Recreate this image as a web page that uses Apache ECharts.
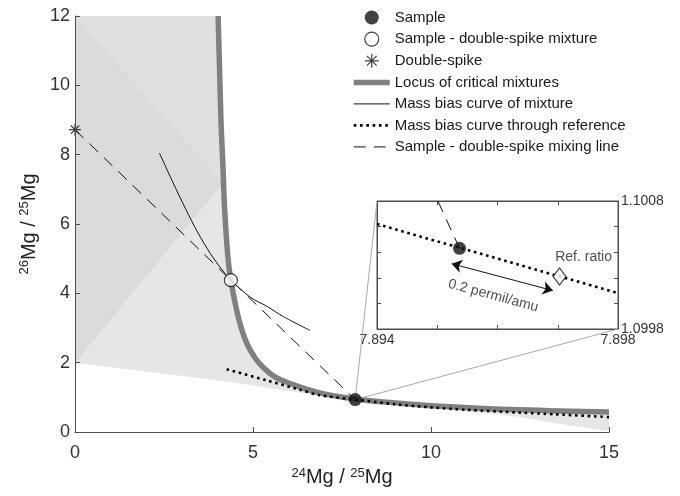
<!DOCTYPE html>
<html>
<head>
<meta charset="utf-8">
<script src="https://cdn.jsdelivr.net/npm/echarts@6.0.0/dist/echarts.min.js"></script>
<style>
  html, body { margin: 0; padding: 0; background: #fff; }
  #chart { width: 680px; height: 496px; }
</style>
</head>
<body>
<div id="chart"></div>
<script>
// ---- values ----
var sample = [7.87, 0.935];
var mixture = [4.38, 4.38];
var doubleSpike = [0, 8.72];

// locus of critical mixtures (thick grey)
var locusX = [4.02, 4.06, 4.10, 4.15, 4.20, 4.26, 4.32, 4.38, 4.47, 4.62, 4.82, 5.05, 5.29, 5.60, 6.04, 6.79, 7.87, 9.0, 10.0, 12.5, 15.0];
var locusY = [12.0, 10.5, 9.0, 7.8, 6.5, 5.5, 4.8, 4.38, 3.87, 3.18, 2.57, 2.15, 1.86, 1.60, 1.40, 1.15, 0.95, 0.84, 0.76, 0.64, 0.58];

// mass bias curve of mixture (thin black)
var mixCurveX = [2.37, 2.75, 3.10, 3.45, 3.80, 4.10, 4.38, 4.92, 5.40, 5.85, 6.60];
var mixCurveY = [8.05, 7.20, 6.45, 5.75, 5.15, 4.72, 4.38, 3.89, 3.62, 3.33, 2.93];

// mass bias curve through reference (dotted)
var refCurveX = [4.26, 5.38, 6.32, 6.88, 7.87, 9.0, 10.0, 11.0, 12.5, 13.5, 15.0];
var refCurveY = [1.81, 1.49, 1.22, 1.06, 0.935, 0.80, 0.71, 0.64, 0.56, 0.51, 0.43];

// sample - double-spike mixing line (dashed)
var mixLineX = [0, 4.38, 7.87];
var mixLineY = [8.72, 4.38, 0.935];

// light grey fan: lower edge, from right to left
var fanLowX = [15.0, 13.5, 12.5, 10.0, 8.0, 4.26, 0];
var fanLowY = [0.02, 0.25, 0.43, 0.70, 0.87, 1.46, 2.0];
// darker wedge and upper band inside the fan
var wedgeX = [0, 0, 4.17];
var wedgeY = [12, 2, 7.2];
var upperX = [0, 4.02, 4.06, 4.10, 4.15, 4.17];
var upperY = [12, 12.0, 10.5, 9.0, 7.8, 7.2];

// inset (zoom on the sample)
var insetXLabels = ['7.894', '7.898'];
var insetYLabels = ['1.0998', '1.1008'];
var insetRefLineX = [7.894, 7.898];
var insetRefLineY = [1.10062, 1.10008];
var insetMixLineX = [7.89501, 7.89537];
var insetMixLineY = [1.1008, 1.10043];
var insetSample = [7.89537, 1.10043];
var insetRef = [7.89703, 1.10021];
var arrowX = [7.89524, 7.89692];
var arrowY = [1.10031, 1.10010];
var arrowText = [7.89593, 1.10006];

function zip(xs, ys) { return xs.map(function (x, i) { return [x, ys[i]]; }); }

var FONT = "'Liberation Sans', Arial, Helvetica, sans-serif";
var AX = '#4d4d4d';
var MAIN = { left: 75, top: 16, width: 534, height: 416 };
var INSET = { left: 377, top: 201, width: 241, height: 128 };

var fanPoly = [[0, 12]].concat(zip(locusX, locusY), zip(fanLowX, fanLowY));
var wedgePoly = zip(wedgeX, wedgeY);
var upperPoly = zip(upperX, upperY);

var asterisk = 'path://M0,5L10,5M5,0L5,10M1.5,1.5L8.5,8.5M1.5,8.5L8.5,1.5';
var clear = 'rgba(0,0,0,0)';

function near(v, s) { return Math.abs(v - parseFloat(s)) < 1e-7; }

var myChart = echarts.init(document.getElementById('chart'));

var option = {
    animation: false,
    backgroundColor: '#fff',
    textStyle: { fontFamily: FONT },
    grid: [
        { left: MAIN.left, top: MAIN.top, width: MAIN.width, height: MAIN.height },
        { left: INSET.left, top: INSET.top, width: INSET.width, height: INSET.height,
          show: true, backgroundColor: '#fff', borderColor: AX, borderWidth: 1 }
    ],
    legend: {
        orient: 'vertical',
        left: 346, top: 5,
        itemWidth: 36, itemHeight: 14, itemGap: 6.5,
        selectedMode: false,
        textStyle: { fontSize: 15, color: '#1a1a1a', fontFamily: FONT },
        itemStyle: { borderWidth: 'inherit', borderColor: 'inherit' },
        lineStyle: { width: 'inherit', type: 'inherit', color: 'inherit' },
        data: ['Sample', 'Sample - double-spike mixture', 'Double-spike',
               'Locus of critical mixtures', 'Mass bias curve of mixture',
               'Mass bias curve through reference', 'Sample - double-spike mixing line']
    },
    xAxis: [
        {
            gridIndex: 0, type: 'value', min: 0, max: 15, interval: 5, z: 10,
            axisLine: { lineStyle: { color: AX, width: 1 } },
            axisTick: { inside: true, length: 5, lineStyle: { color: AX } },
            axisLabel: { fontSize: 18, color: '#333', margin: 12 },
            splitLine: { show: false },
            name: '{s|24}{m|Mg / }{s|25}{m|Mg}',
            nameLocation: 'middle', nameGap: 34,
            nameTextStyle: {
                color: '#222',
                rich: {
                    s: { fontSize: 13, lineHeight: 13, verticalAlign: 'top', color: '#222' },
                    m: { fontSize: 20, lineHeight: 22, color: '#222' }
                }
            }
        },
        {
            gridIndex: 1, type: 'value', min: 7.894, max: 7.898, interval: 0.001, position: 'bottom',
            axisLine: { lineStyle: { color: AX } },
            axisTick: { inside: true, length: 4, lineStyle: { color: AX } },
            axisLabel: { fontSize: 14, color: '#333', margin: 4,
                formatter: function (v) {
                    for (var i = 0; i < insetXLabels.length; i++) if (near(v, insetXLabels[i])) return insetXLabels[i];
                    return '';
                } },
            splitLine: { show: false }
        },
        {
            gridIndex: 1, type: 'value', min: 7.894, max: 7.898, interval: 0.001, position: 'top',
            axisLine: { lineStyle: { color: AX } },
            axisTick: { inside: true, length: 4, lineStyle: { color: AX } },
            axisLabel: { show: false },
            splitLine: { show: false }
        }
    ],
    yAxis: [
        {
            gridIndex: 0, type: 'value', min: 0, max: 12, interval: 2, z: 10,
            axisLine: { show: true, lineStyle: { color: AX, width: 1 } },
            axisTick: { show: true, inside: true, length: 5, lineStyle: { color: AX } },
            axisLabel: { fontSize: 18, color: '#333', margin: 5 },
            splitLine: { show: false },
            name: '{s|26}{m|Mg / }{s|25}{m|Mg}',
            nameLocation: 'middle', nameGap: 34, nameRotate: 90,
            nameTextStyle: {
                color: '#222',
                rich: {
                    s: { fontSize: 13, lineHeight: 13, verticalAlign: 'top', color: '#222' },
                    m: { fontSize: 20, lineHeight: 22, color: '#222' }
                }
            }
        },
        {
            gridIndex: 1, type: 'value', min: 1.0998, max: 1.1008, interval: 0.0002, position: 'right',
            axisLine: { show: true, lineStyle: { color: AX } },
            axisTick: { show: true, inside: true, length: 4, lineStyle: { color: AX } },
            axisLabel: { fontSize: 14, color: '#333', margin: 3,
                formatter: function (v) {
                    for (var i = 0; i < insetYLabels.length; i++) if (near(v, insetYLabels[i])) return insetYLabels[i];
                    return '';
                } },
            splitLine: { show: false }
        },
        {
            gridIndex: 1, type: 'value', min: 1.0998, max: 1.1008, interval: 0.0002, position: 'left',
            axisLine: { show: true, lineStyle: { color: AX } },
            axisTick: { show: true, inside: true, length: 4, lineStyle: { color: AX } },
            axisLabel: { show: false },
            splitLine: { show: false }
        }
    ],
    series: [
        // grey fan of mixtures
        {
            type: 'custom', name: 'fan', xAxisIndex: 0, yAxisIndex: 0, z: 1, silent: true,
            data: [[0, 0]],
            renderItem: function (params, api) {
                function px(poly) { return poly.map(function (p) { return api.coord(p); }); }
                return {
                    type: 'group',
                    children: [
                        { type: 'polygon', shape: { points: px(fanPoly), smooth: 0 }, style: { fill: '#e6e6e6' } },
                        { type: 'polygon', shape: { points: px(upperPoly) }, style: { fill: '#e0e0e0' } },
                        { type: 'polygon', shape: { points: px(wedgePoly) }, style: { fill: '#dbdbdb' } }
                    ]
                };
            }
        },
        // thin lines from the sample to the inset corners
        {
            type: 'custom', name: 'zoomlines', xAxisIndex: 0, yAxisIndex: 0, z: 2, silent: true,
            data: [sample],
            renderItem: function (params, api) {
                var p = api.coord(sample);
                var st = { stroke: '#a8a8a8', lineWidth: 1 };
                return {
                    type: 'group',
                    children: [
                        { type: 'line', shape: { x1: p[0], y1: p[1], x2: INSET.left, y2: INSET.top }, style: st },
                        { type: 'line', shape: { x1: p[0], y1: p[1], x2: INSET.left + INSET.width, y2: INSET.top + INSET.height }, style: st }
                    ]
                };
            }
        },
        {
            type: 'line', name: 'Locus of critical mixtures', xAxisIndex: 0, yAxisIndex: 0, z: 3,
            data: zip(locusX, locusY), showSymbol: false, symbol: 'none',
            smooth: 0.4,
            itemStyle: { color: clear, borderWidth: 0 },
            lineStyle: { color: '#808080', width: 5.5 }
        },
        {
            type: 'line', name: 'Mass bias curve of mixture', xAxisIndex: 0, yAxisIndex: 0, z: 4,
            data: zip(mixCurveX, mixCurveY), showSymbol: false, symbol: 'none', smooth: 0.3,
            itemStyle: { color: clear, borderWidth: 0 },
            lineStyle: { color: '#111', width: 1 }
        },
        {
            type: 'line', name: 'Mass bias curve through reference', xAxisIndex: 0, yAxisIndex: 0, z: 4,
            data: zip(refCurveX, refCurveY), showSymbol: false, symbol: 'none', smooth: 0.3,
            itemStyle: { color: clear, borderWidth: 0 },
            lineStyle: { color: '#000', width: 2.6, type: [2.6, 3.7] }
        },
        {
            type: 'line', name: 'Sample - double-spike mixing line', xAxisIndex: 0, yAxisIndex: 0, z: 4,
            data: zip(mixLineX, mixLineY), showSymbol: false, symbol: 'none',
            itemStyle: { color: clear, borderWidth: 0 },
            lineStyle: { color: '#111', width: 1, type: [12, 8] }
        },
        {
            type: 'scatter', name: 'Sample', xAxisIndex: 0, yAxisIndex: 0, z: 5,
            data: [sample], symbol: 'circle', symbolSize: 13,
            itemStyle: { color: '#111', borderWidth: 0 }
        },
        {
            type: 'scatter', name: 'Sample - double-spike mixture', xAxisIndex: 0, yAxisIndex: 0, z: 5,
            data: [mixture], symbol: 'circle', symbolSize: 13,
            itemStyle: { color: '#fff', borderColor: '#111', borderWidth: 1.2 }
        },
        {
            type: 'scatter', name: 'Double-spike', xAxisIndex: 0, yAxisIndex: 0, z: 5,
            data: [doubleSpike], symbol: asterisk, symbolSize: 12, clip: false,
            itemStyle: { color: clear, borderColor: '#111', borderWidth: 1.2 }
        },

        // ---- inset ----
        {
            type: 'line', name: 'inset-ref', xAxisIndex: 1, yAxisIndex: 1, z: 4,
            data: zip(insetRefLineX, insetRefLineY), showSymbol: false, symbol: 'none',
            lineStyle: { color: '#000', width: 2.6, type: [2.6, 3.7] }
        },
        {
            type: 'line', name: 'inset-mix', xAxisIndex: 1, yAxisIndex: 1, z: 4,
            data: zip(insetMixLineX, insetMixLineY), showSymbol: false, symbol: 'none',
            lineStyle: { color: '#111', width: 1, type: [12, 8] }
        },
        {
            type: 'lines', name: 'inset-arrow', coordinateSystem: 'cartesian2d', xAxisIndex: 1, yAxisIndex: 1, z: 4,
            data: [{ coords: zip(arrowX, arrowY) }],
            symbol: ['arrow', 'arrow'], symbolSize: 10,
            lineStyle: { color: '#111', width: 1, opacity: 1 }
        },
        {
            type: 'scatter', name: 'inset-sample', xAxisIndex: 1, yAxisIndex: 1, z: 5,
            data: [insetSample], symbol: 'circle', symbolSize: 13,
            itemStyle: { color: '#111' }
        },
        {
            type: 'scatter', name: 'inset-ref-point', xAxisIndex: 1, yAxisIndex: 1, z: 5,
            data: [insetRef], symbol: 'diamond', symbolSize: [13, 17],
            itemStyle: { color: '#fff', borderColor: '#111', borderWidth: 1.2 },
            label: { show: true, position: 'top', offset: [24, 2], formatter: 'Ref. ratio',
                     fontSize: 14, color: '#222', fontFamily: FONT }
        },
        {
            type: 'scatter', name: 'inset-text', xAxisIndex: 1, yAxisIndex: 1, z: 5,
            data: [arrowText], symbolSize: 1, itemStyle: { color: clear },
            label: { show: true, position: 'inside', rotate: -15, formatter: '0.2 permil/amu',
                     fontSize: 14, color: '#222', fontFamily: FONT }
        }
    ]
};

myChart.setOption(option);
</script>
</body>
</html>
